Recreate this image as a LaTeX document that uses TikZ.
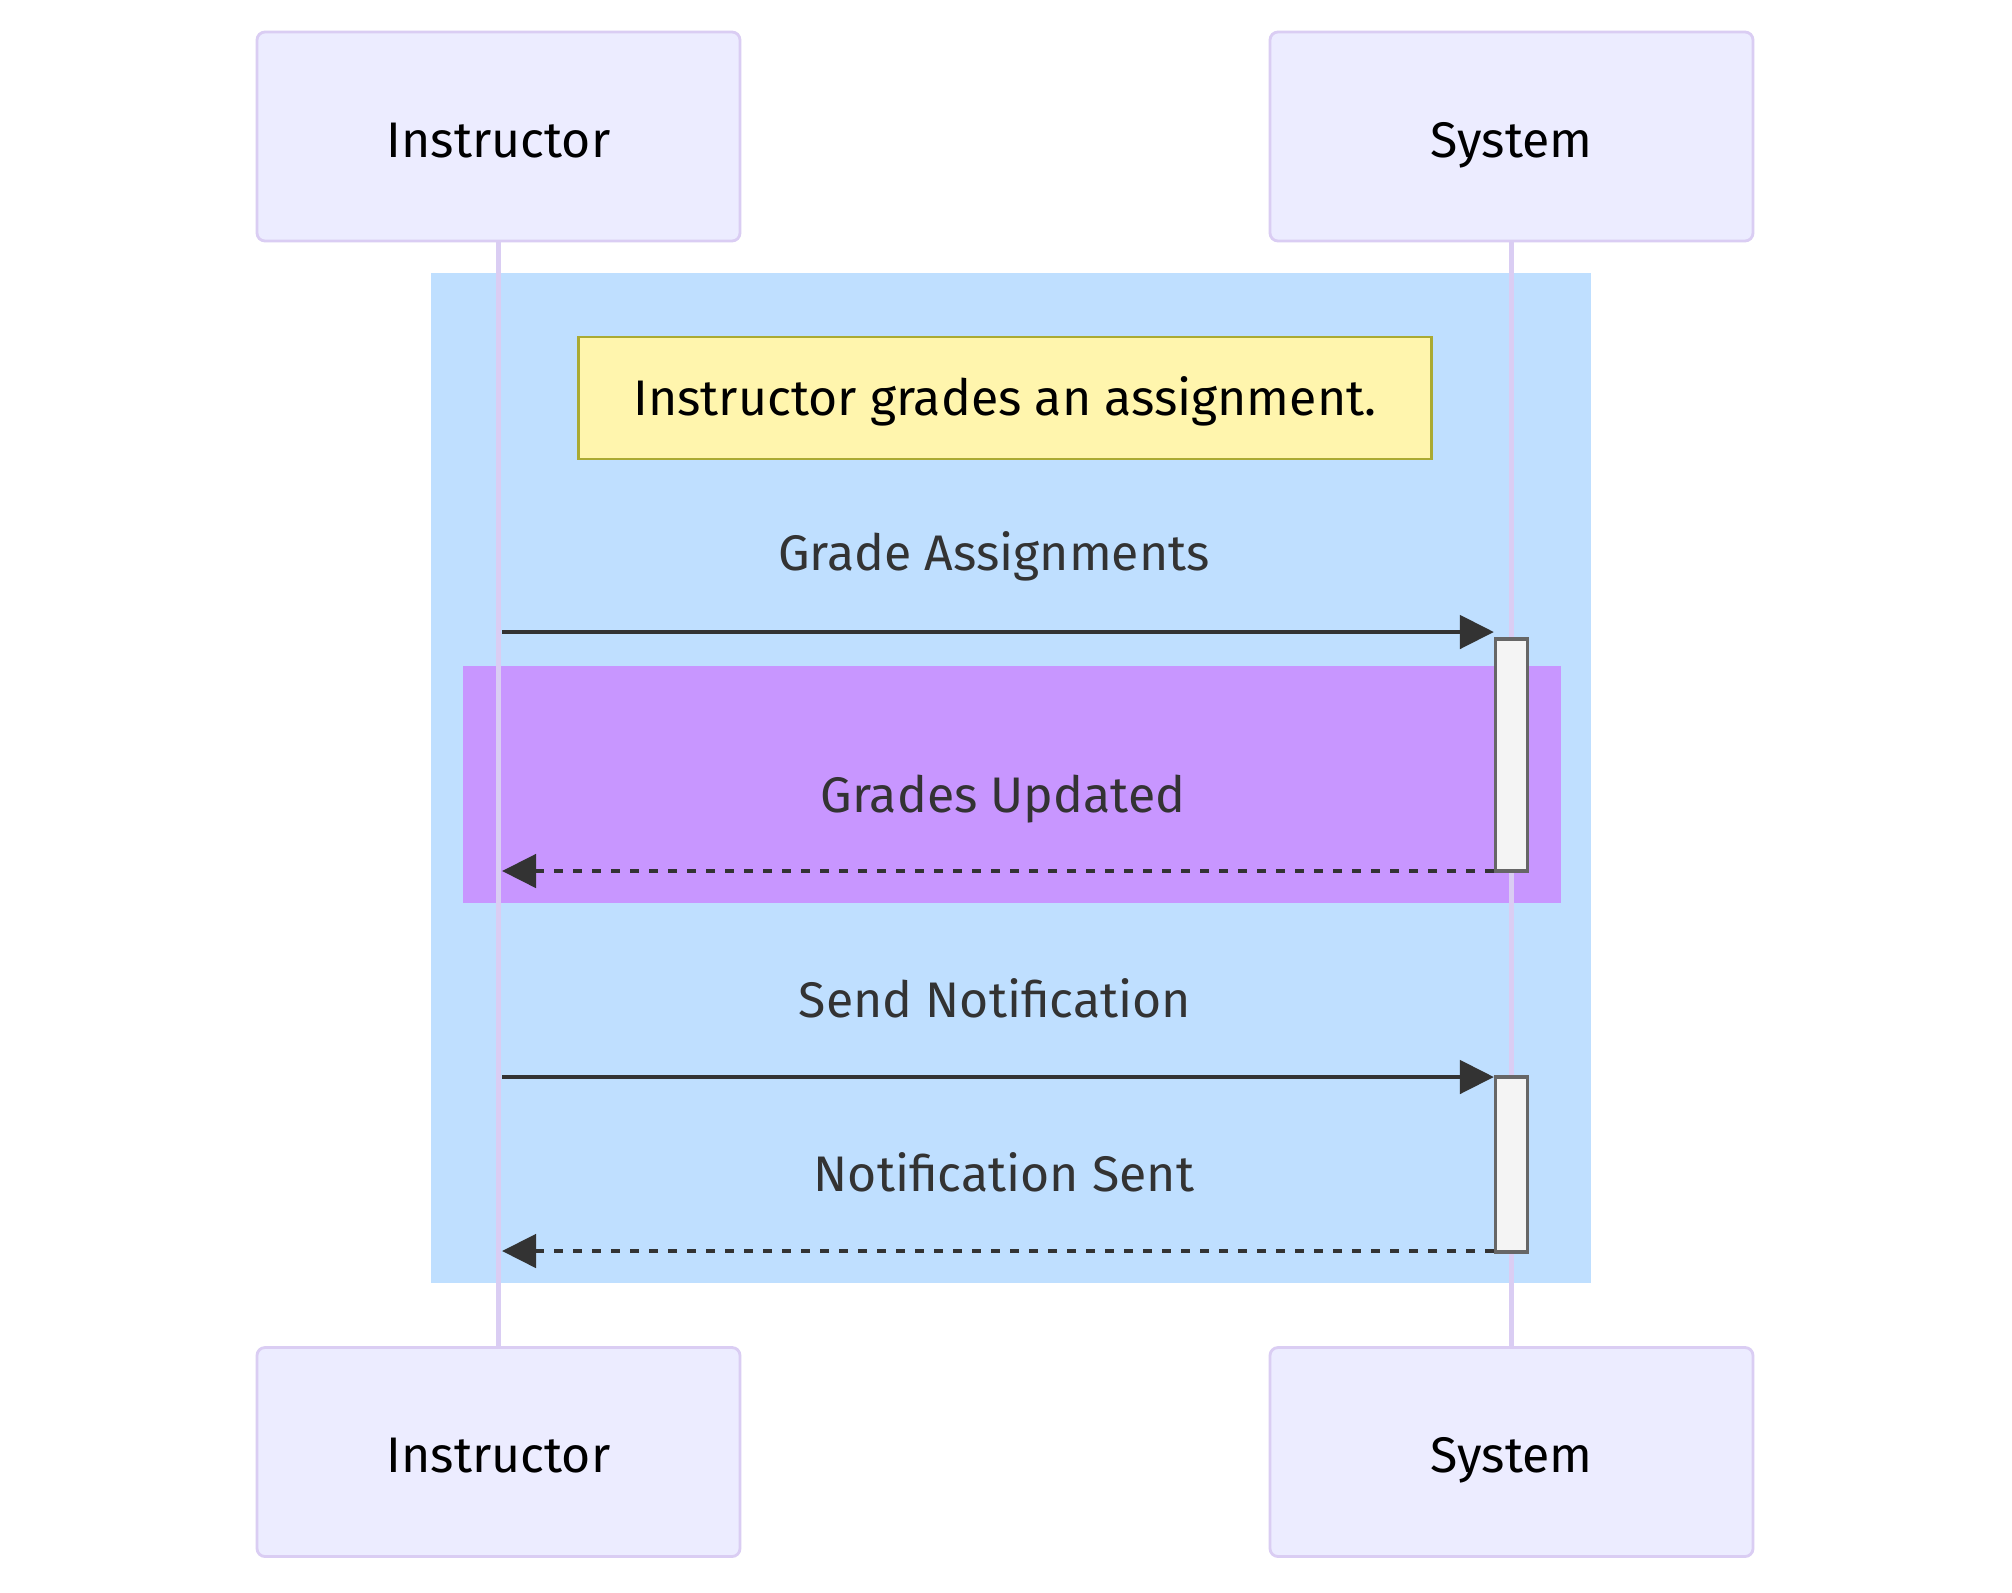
\documentclass[tikz,border=0pt]{standalone}
\usepackage{fontspec}
\setmainfont{Fira Sans}
\usetikzlibrary{arrows.meta}
\definecolor{actorfill}{HTML}{ECECFF}
\definecolor{actorline}{HTML}{DACDF3}
\definecolor{loopblue}{HTML}{BFDFFF}
\definecolor{looppurple}{HTML}{C896FF}
\definecolor{notefill}{HTML}{FFF5AD}
\definecolor{noteline}{HTML}{AAAA33}
\definecolor{msgdark}{HTML}{333333}
\definecolor{actvfill}{HTML}{F4F4F4}
\definecolor{actvline}{HTML}{666666}
\begin{document}
\begin{tikzpicture}[x=0.5pt,y=-0.5pt,
  txt/.style={font=\fontsize{25}{30}\selectfont},
  actorbox/.style={txt, draw=actorline, fill=actorfill, line width=1.4pt,
    rounded corners=4pt, minimum width=241.5pt, minimum height=104.5pt,
    text height=20.5pt, text depth=0pt, inner sep=0pt},
  lifeline/.style={draw=actorline, line width=2.8pt},
  notebox/.style={txt, draw=noteline, fill=notefill, line width=1.2pt,
    minimum width=426.5pt, minimum height=61pt, inner sep=0pt,
    text height=17pt, text depth=0pt},
  msglabel/.style={txt, text=msgdark, anchor=base, inner sep=0pt},
  msg/.style={draw=msgdark, line width=2.4pt,
    -{Triangle[length=17pt,width=16.5pt]}},
  reply/.style={msg, dash pattern=on 4.5pt off 5pt},
  activbox/.style={draw=actvline, fill=actvfill, line width=1.6pt,
    minimum width=16pt, inner sep=0pt},
]
% canvas
\fill[white] (0,0) rectangle (2012,1592);
\useasboundingbox (0,0) rectangle (2012,1592);

% highlighted regions
\fill[loopblue] (431,273) rectangle (1591,1283);
\fill[looppurple] (463,666) rectangle (1561,903);

% participants
\node[actorbox] (itop) at (498.5,136.5) {Instructor};
\node[actorbox] (stop) at (1511.5,136.5) {System};
\node[actorbox] (ibot) at (498.5,1452) {Instructor};
\node[actorbox] (sbot) at (1511.5,1452) {System};

% lifelines
\draw[lifeline] (itop.south) -- (ibot.north);
\draw[lifeline] (stop.south) -- (sbot.north);

% note over both participants
\node[notebox] (note) at (1005,398) {Instructor grades an assignment.};

% activation bars
\node[activbox, minimum height=116pt] (act1) at (1511.5,755) {};
\node[activbox, minimum height=87.5pt] (act2) at (1511.5,1164.5) {};

% message labels
\node[msglabel] (l1) at (994,570) {Grade Assignments};
\node[msglabel] (l2) at (1003,812) {Grades Updated};
\node[msglabel] (l3) at (995,1017) {Send Notification};
\node[msglabel] (l4) at (1004,1191) {Notification Sent};

% message end points on the instructor lifeline
\coordinate (m1) at (502,632);
\coordinate (m2) at (502,871);
\coordinate (m3) at (502,1077);
\coordinate (m4) at (502,1251);

% messages
\draw[msg] (m1) -- (m1 -| act1.west);
\draw[reply] (m2 -| act1.west) -- (m2);
\draw[msg] (m3) -- (m3 -| act2.west);
\draw[reply] (m4 -| act2.west) -- (m4);
\end{tikzpicture}
\end{document}
